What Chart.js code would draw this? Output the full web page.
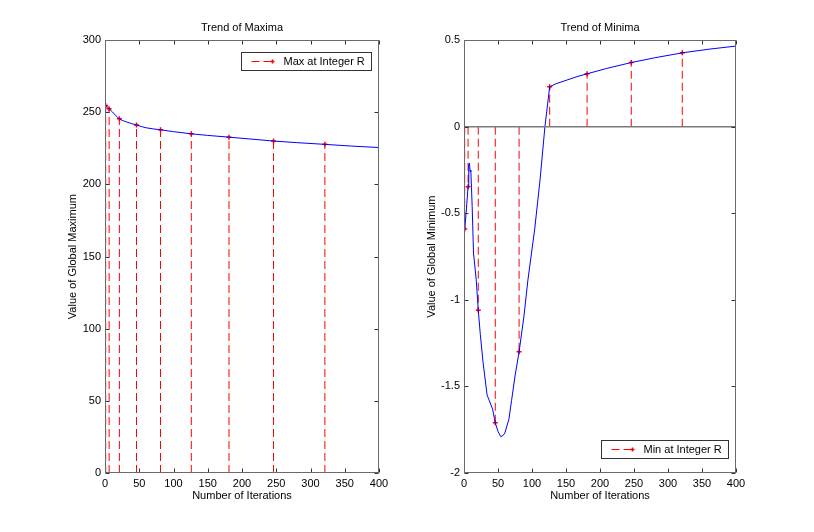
<!DOCTYPE html>
<html>
<head>
<meta charset="utf-8">
<script src="https://cdn.jsdelivr.net/npm/chart.js@4.4.0/dist/chart.umd.min.js"></script>
<style>
    html, body { margin: 0; padding: 0; background: #fff; }
    #wrap { position: relative; width: 814px; height: 532px; }
    .panel { position: absolute; top: 0; height: 532px; }
    #leftPanel { left: 0; width: 400px; }
    #rightPanel { left: 400px; width: 414px; }
</style>
</head>
<body>
<div id="wrap">
    <div class="panel" id="leftPanel"><canvas id="maxChart" width="400" height="532"></canvas></div>
    <div class="panel" id="rightPanel"><canvas id="minChart" width="414" height="532"></canvas></div>
</div>
<script>
// --- data ---
const xTicks = [0, 50, 100, 150, 200, 250, 300, 350, 400];

// left: trend of maxima
const maxCurveX = [1, 6, 11, 16, 21, 31, 46, 60, 81, 100, 126, 150, 181, 210, 246, 280, 321, 360, 400];
const maxCurveY = [254.8, 252.5, 250.2, 247.6, 245.5, 243.4, 241.2, 239.3, 237.9, 236.6, 235.1, 234.0, 232.8, 231.6, 230.1, 229.0, 227.8, 226.6, 225.6];
const maxStemX = [1, 6, 21, 46, 81, 126, 181, 246, 321];
const maxStemY = [254.8, 252.5, 245.5, 241.2, 237.9, 235.1, 232.8, 230.1, 227.8];
const maxYTicks = [0, 50, 100, 150, 200, 250, 300];

// right: trend of minima
const minCurveX = [1, 2, 4, 6, 7, 8, 9, 10, 11, 12, 14, 18, 21, 24, 28, 34, 38, 42, 46, 50, 54, 57, 60, 66, 70, 75, 81, 88, 94, 104, 112, 119, 126, 135, 150, 165, 181, 210, 246, 280, 321, 360, 400];
const minCurveY = [-0.60, -0.55, -0.45, -0.346, -0.22, -0.21, -0.26, -0.25, -0.35, -0.46, -0.73, -0.885, -1.06, -1.20, -1.36, -1.55, -1.59, -1.63, -1.71, -1.76, -1.79, -1.785, -1.77, -1.69, -1.58, -1.44, -1.30, -1.10, -0.885, -0.59, -0.30, 0.0, 0.231, 0.248, 0.268, 0.288, 0.306, 0.337, 0.371, 0.398, 0.427, 0.448, 0.466];
const minStemX = [1, 6, 21, 46, 81, 126, 181, 246, 321];
const minStemY = [-0.59, -0.346, -1.06, -1.71, -1.30, 0.231, 0.306, 0.371, 0.427];
const minYTicks = [-2, -1.5, -1, -0.5, 0, 0.5];

Chart.defaults.font.family = 'Arial, "Liberation Sans", Helvetica, sans-serif';
Chart.defaults.font.size = 11;
Chart.defaults.font.lineHeight = 1.2;
Chart.defaults.color = '#000';

function toPoints(xs, ys) {
    return xs.map((x, i) => ({ x: x, y: ys[i] }));
}

// stems: base -> tip, then a gap
function stemPoints(xs, ys) {
    const pts = [];
    xs.forEach((x, i) => {
        pts.push({ x: x, y: 0 }, { x: x, y: ys[i] }, { x: x, y: null });
    });
    return pts;
}

// boxed axes with inward ticks + legend box, matlab style
const matlabAxes = {
    id: 'matlabAxes',
    afterDatasetsDraw(chart, args, opts) {
        const { ctx, chartArea: a, scales: { x, y } } = chart;
        const L = Math.round(a.left) + 0.5, R = Math.round(a.right) - 0.5;
        const T = Math.round(a.top) + 0.5, B = Math.round(a.bottom) - 0.5;
        ctx.save();
        ctx.strokeStyle = '#333';
        ctx.lineWidth = 1;
        ctx.beginPath();
        x.ticks.forEach(t => {
            const px = Math.round(x.getPixelForValue(t.value)) + 0.5;
            ctx.moveTo(px, B); ctx.lineTo(px, B - 4);
            ctx.moveTo(px, T); ctx.lineTo(px, T + 4);
        });
        y.ticks.forEach(t => {
            const py = Math.round(y.getPixelForValue(t.value)) + 0.5;
            ctx.moveTo(L, py); ctx.lineTo(L + 4, py);
            ctx.moveTo(R, py); ctx.lineTo(R - 4, py);
        });
        ctx.stroke();
        ctx.strokeStyle = '#6a6a6a';
        ctx.strokeRect(L, T, R - L, B - T);

        // legend
        const ds = chart.data.datasets[opts.legendIndex];
        ctx.font = '11px ' + Chart.defaults.font.family;
        const tw = ctx.measureText(ds.label).width;
        const w = Math.round(42 + tw + 7), h = 18;
        const bx = Math.round(a.right - 8 - w) + 0.5;
        const by = opts.corner === 'top' ? Math.round(a.top + 12) + 0.5 : Math.round(a.bottom - 15 - h) + 0.5;
        ctx.fillStyle = '#fff';
        ctx.fillRect(bx, by, w, h);
        ctx.strokeStyle = '#333';
        ctx.strokeRect(bx, by, w, h);
        const ly = by + h / 2;
        ctx.strokeStyle = ds.borderColor;
        ctx.setLineDash(ds.borderDash);
        ctx.beginPath();
        ctx.moveTo(bx + 10, ly); ctx.lineTo(bx + 31, ly);
        ctx.stroke();
        ctx.setLineDash([]);
        ctx.lineWidth = 1.5;
        ctx.beginPath();
        ctx.moveTo(bx + 29, ly); ctx.lineTo(bx + 33, ly);
        ctx.moveTo(bx + 31, ly - 2); ctx.lineTo(bx + 31, ly + 2);
        ctx.stroke();
        ctx.fillStyle = '#000';
        ctx.textBaseline = 'middle';
        ctx.textAlign = 'left';
        ctx.fillText(ds.label, bx + 42, ly + 0.5);
        ctx.restore();
    }
};

function makeChart(id, cfg) {
    const datasets = [];
    if (cfg.baseline) {
        datasets.push({
            label: 'baseline',
            data: [{ x: 0, y: 0 }, { x: 400, y: 0 }],
            borderColor: '#7a7a7a',
            borderWidth: 1.5,
            pointRadius: 0
        });
    }
    datasets.push({
        label: 'curve',
        data: toPoints(cfg.curveX, cfg.curveY),
        borderColor: '#0000ff',
        borderWidth: 1,
        pointRadius: 0,
        tension: 0,
        cubicInterpolationMode: cfg.smooth ? 'monotone' : 'default'
    });
    datasets.push({
        label: cfg.legend,
        data: stemPoints(cfg.stemX, cfg.stemY),
        borderColor: '#ff0000',
        borderWidth: 1,
        borderDash: [8, 4],
        spanGaps: false,
        pointStyle: 'cross',
        pointRadius: c => (c.dataIndex % 3 === 1 ? 2.5 : 0),
        pointBorderWidth: 1.5,
        pointBorderColor: '#ff0000'
    });

    return new Chart(document.getElementById(id), {
        type: 'line',
        data: { datasets: datasets },
        plugins: [matlabAxes],
        options: {
            responsive: false,
            animation: false,
            layout: { padding: { left: 0, right: cfg.padRight, top: 0, bottom: 0 } },
            plugins: {
                legend: { display: false },
                tooltip: { enabled: false },
                title: {
                    display: true,
                    text: cfg.title,
                    fullSize: false,
                    color: '#000',
                    font: { size: 11, weight: 'normal' },
                    padding: { top: 21, bottom: 6 }
                },
                matlabAxes: { legendIndex: datasets.length - 1, corner: cfg.corner }
            },
            scales: {
                x: {
                    type: 'linear',
                    min: 0,
                    max: 400,
                    afterBuildTicks: s => { s.ticks = xTicks.map(v => ({ value: v })); },
                    grid: { display: false, drawTicks: false },
                    border: { display: false },
                    ticks: { color: '#000', padding: 4, maxRotation: 0, font: { size: 11 }, callback: v => String(v) },
                    title: { display: true, text: 'Number of Iterations', color: '#000', font: { size: 11 }, padding: { bottom: 29 } },
                    afterFit: s => { s.height = 59; }
                },
                y: {
                    type: 'linear',
                    min: cfg.yTicks[0],
                    max: cfg.yTicks[cfg.yTicks.length - 1],
                    afterBuildTicks: s => { s.ticks = cfg.yTicks.map(v => ({ value: v })); },
                    grid: { display: false, drawTicks: false },
                    border: { display: false },
                    ticks: { color: '#000', padding: 4, font: { size: 11 }, callback: v => String(v) },
                    title: { display: true, text: cfg.yTitle, color: '#000', font: { size: 11 }, padding: { top: cfg.yTitlePad } },
                    afterFit: s => { s.width = cfg.yWidth; }
                }
            }
        }
    });
}

makeChart('maxChart', {
    title: 'Trend of Maxima',
    yTitle: 'Value of Global Maximum',
    legend: 'Max at Integer R',
    corner: 'top',
    smooth: true,
    curveX: maxCurveX, curveY: maxCurveY,
    stemX: maxStemX, stemY: maxStemY,
    yTicks: maxYTicks,
    yWidth: 105, padRight: 21, yTitlePad: 66
});

makeChart('minChart', {
    title: 'Trend of Minima',
    yTitle: 'Value of Global Minimum',
    legend: 'Min at Integer R',
    corner: 'bottom',
    baseline: true,
    smooth: false,
    curveX: minCurveX, curveY: minCurveY,
    stemX: minStemX, stemY: minStemY,
    yTicks: minYTicks,
    yWidth: 64, padRight: 78, yTitlePad: 25
});
</script>
</body>
</html>
